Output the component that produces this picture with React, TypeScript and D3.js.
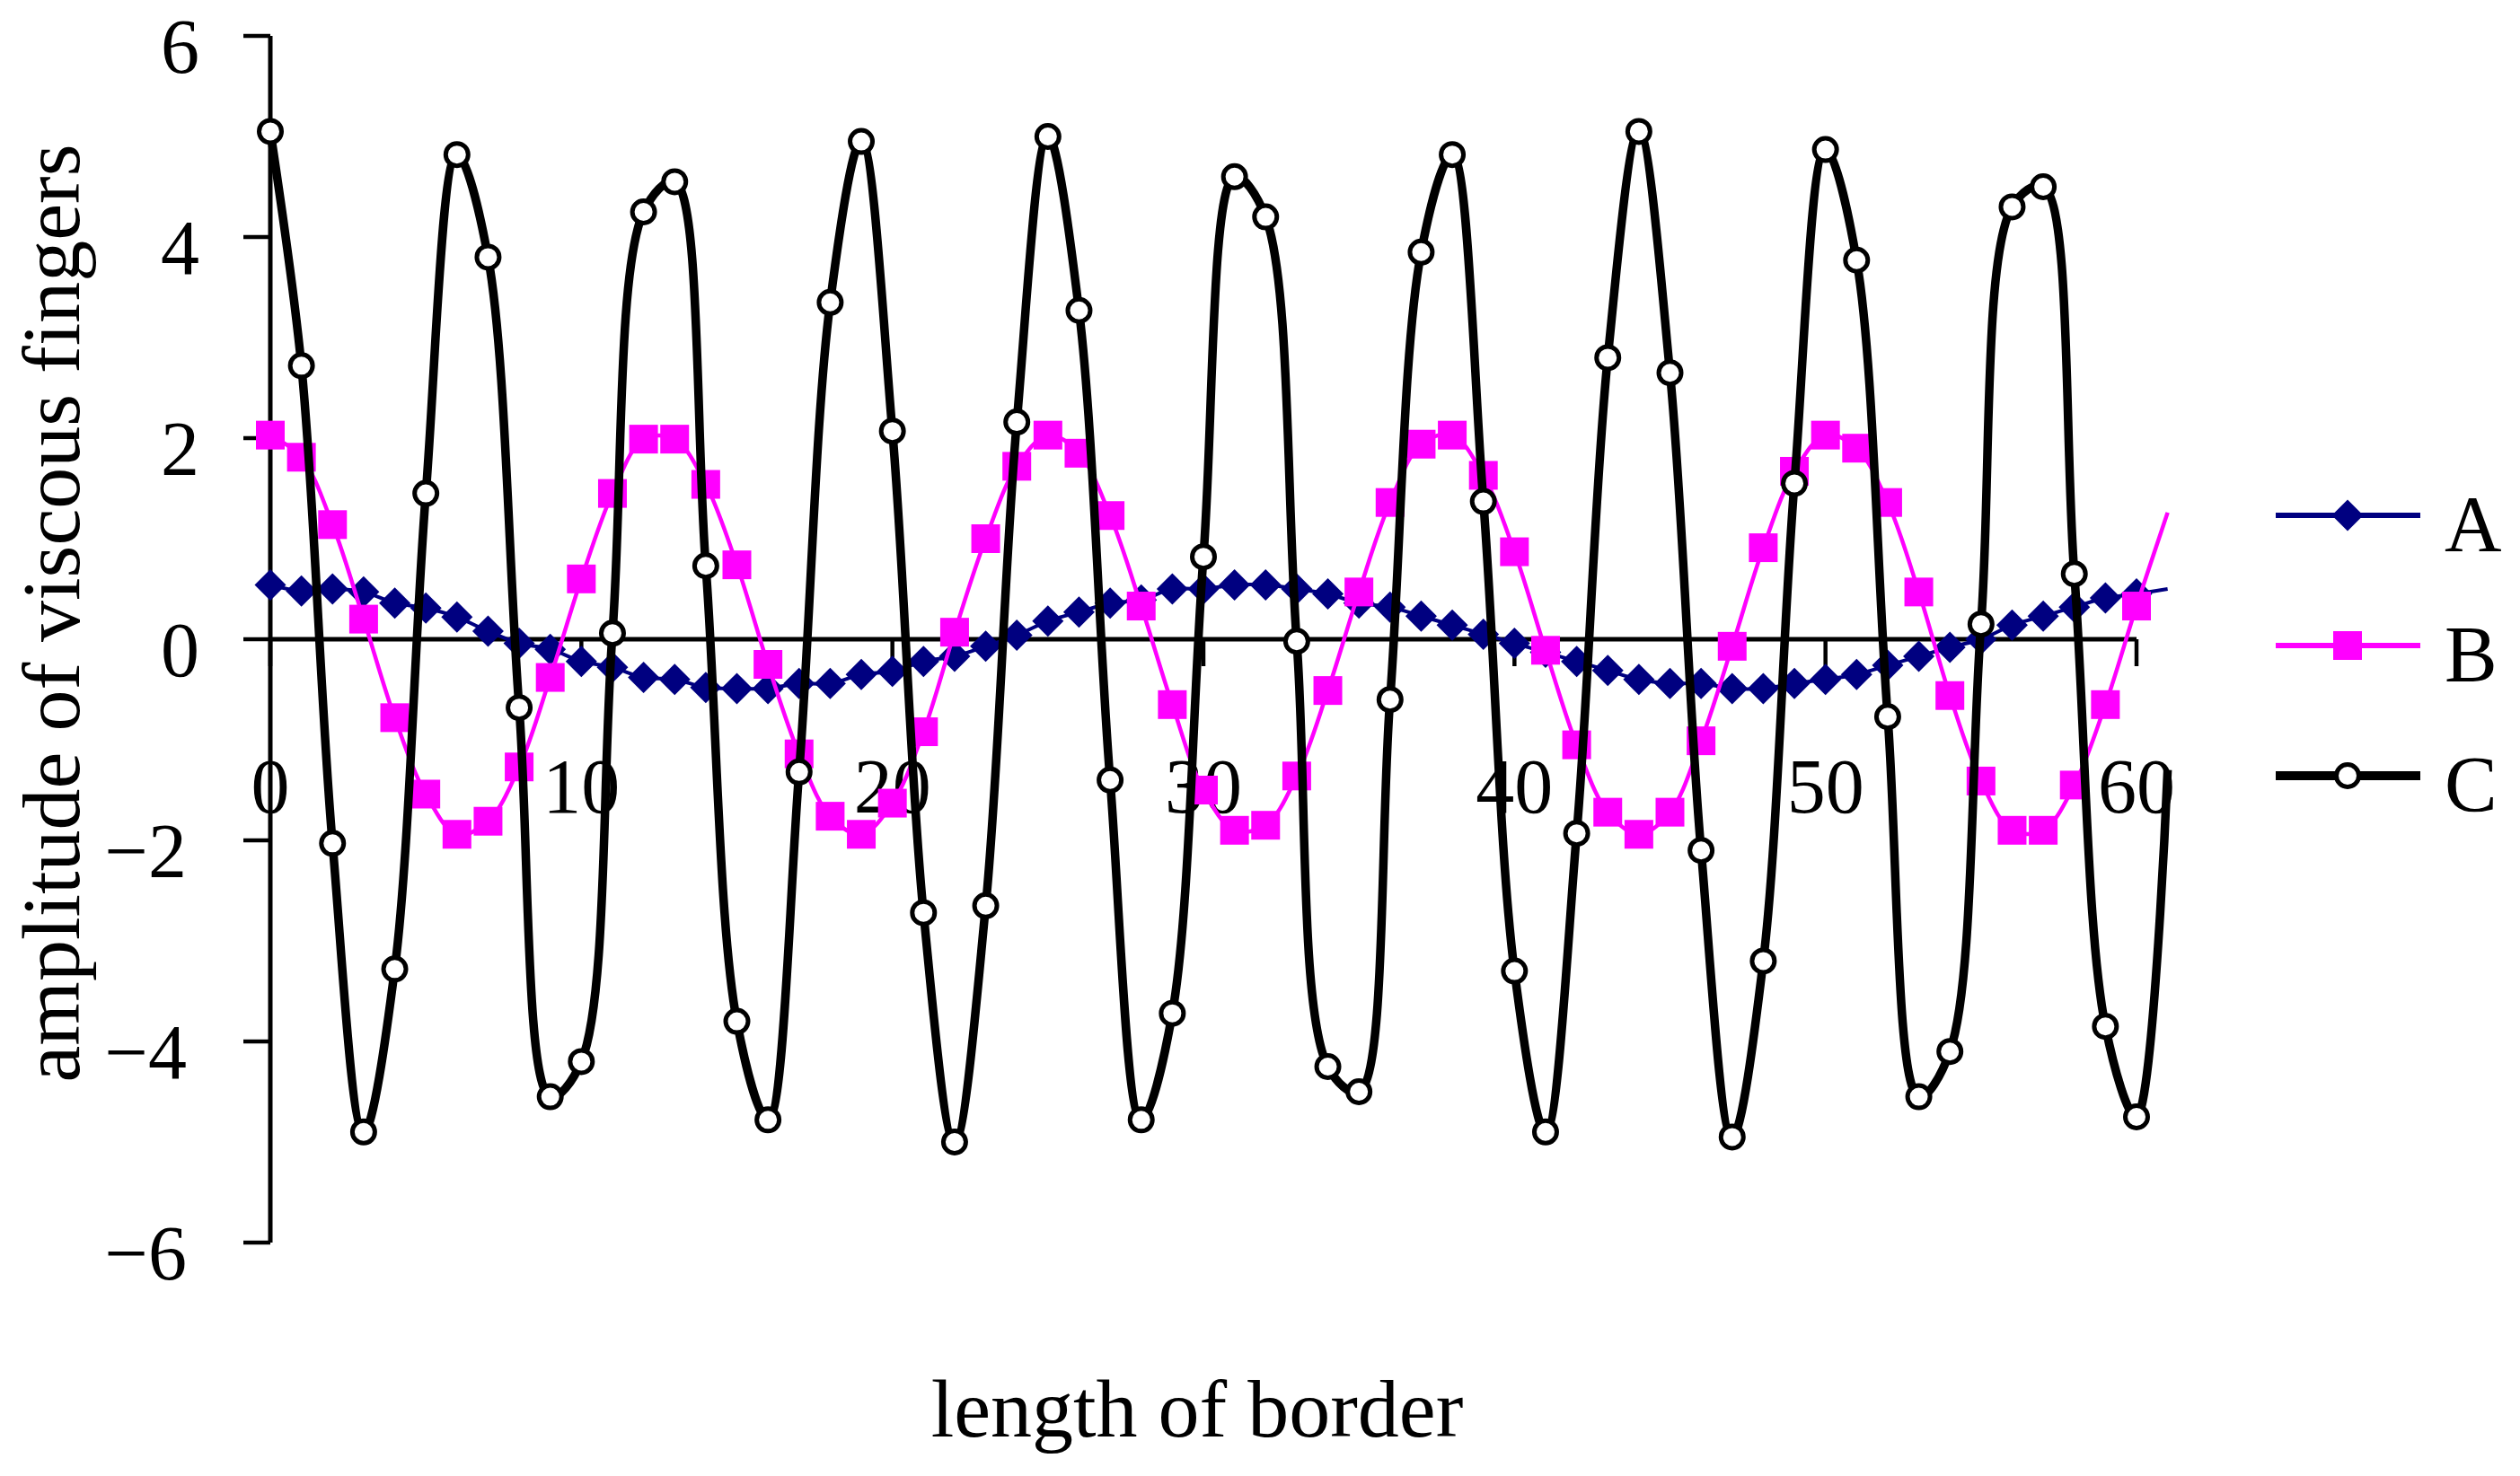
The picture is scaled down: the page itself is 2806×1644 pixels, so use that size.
import * as d3 from "d3";

// values, one per unit of border length (0..61)
const seriesNames = ["A", "B", "C"];

const valuesA = [
  0.54, 0.48, 0.5, 0.47, 0.36, 0.31, 0.22, 0.08, -0.04, -0.1,
  -0.22, -0.28, -0.38, -0.4, -0.48, -0.49, -0.49, -0.44, -0.44, -0.35,
  -0.32, -0.22, -0.17, -0.07, 0.04, 0.18, 0.27, 0.36, 0.39, 0.5,
  0.5, 0.54, 0.54, 0.5, 0.45, 0.36, 0.32, 0.23, 0.14, 0.05,
  -0.04, -0.13, -0.22, -0.31, -0.4, -0.44, -0.44, -0.49, -0.49, -0.44,
  -0.4, -0.35, -0.26, -0.17, -0.08, 0.0, 0.14, 0.23, 0.32, 0.41,
  0.45, 0.5,
];

const valuesB = [
  2.03, 1.81, 1.14, 0.2, -0.78, -1.54, -1.94, -1.81, -1.27, -0.38,
  0.6, 1.45, 1.99, 1.99, 1.54, 0.74, -0.25, -1.14, -1.76, -1.94,
  -1.63, -0.92, 0.07, 1.0, 1.72, 2.03, 1.85, 1.23, 0.33, -0.65,
  -1.5, -1.9, -1.85, -1.36, -0.51, 0.47, 1.36, 1.94, 2.03, 1.63,
  0.87, -0.11, -1.05, -1.72, -1.94, -1.72, -1.01, -0.07, 0.91, 1.67,
  2.03, 1.9, 1.36, 0.47, -0.56, -1.41, -1.9, -1.9, -1.45, -0.65,
  0.33, 1.26,
];

const valuesC = [
  5.05, 2.72, -2.03, -4.9, -3.28, 1.45, 4.82, 3.8, -0.68, -4.55,
  -4.2, 0.06, 4.25, 4.55, 0.73, -3.8, -4.78, -1.32, 3.35, 4.95,
  2.07, -2.72, -5.0, -2.65, 2.16, 5.0, 3.27, -1.4, -4.78, -3.72,
  0.82, 4.6, 4.2, -0.02, -4.25, -4.5, -0.6, 3.85, 4.82, 1.37,
  -3.3, -4.9, -1.93, 2.8, 5.05, 2.65, -2.1, -4.95, -3.2, 1.55,
  4.87, 3.77, -0.77, -4.55, -4.1, 0.15, 4.3, 4.5, 0.65, -3.85,
  -4.75, -1.3,
];

const xTicks = [0, 10, 20, 30, 40, 50, 60];
const yTicks = [-6, -4, -2, 0, 2, 4, 6];

const width = 2806;
const height = 1644;
const font = "'Liberation Serif', 'Times New Roman', serif";

const x = d3.scaleLinear().domain([0, 60]).range([301, 2379]);
const y = d3.scaleLinear().domain([-6, 6]).range([1384, 40]);

const series = [
  { name: seriesNames[0], values: valuesA, color: "#000080", width: 4, legendWidth: 6, marker: "diamond" },
  { name: seriesNames[1], values: valuesB, color: "#ff00ff", width: 4.5, legendWidth: 6, marker: "square" },
  { name: seriesNames[2], values: valuesC, color: "#000000", width: 9.5, legendWidth: 10, marker: "circle" },
];

const line = d3
  .line<number>()
  .x((_, i) => x(i))
  .y((d) => y(d))
  .curve(d3.curveCatmullRom.alpha(0.5));

function Marker({ type, cx, cy, color }: { type: string; cx: number; cy: number; color: string }) {
  if (type === "diamond") {
    return <path d={`M${cx},${cy - 17.5}L${cx + 17.5},${cy}L${cx},${cy + 17.5}L${cx - 17.5},${cy}Z`} fill={color} />;
  }
  if (type === "square") {
    return <rect x={cx - 16} y={cy - 16} width={32} height={32} fill={color} />;
  }
  return <circle cx={cx} cy={cy} r={12.5} fill="#fff" stroke={color} strokeWidth={5} />;
}

export default function App() {
  const axisX = x(0);
  const zeroY = y(0);

  return (
    <svg
      width={width}
      height={height}
      style={{ position: "absolute", left: 0, top: 0, background: "#fff" }}
    >
      {/* y axis */}
      <line x1={axisX} x2={axisX} y1={y(6)} y2={y(-6)} stroke="#000" strokeWidth={5} />
      {yTicks.map((t) => (
        <g key={`y${t}`}>
          <line x1={axisX - 30} x2={axisX} y1={y(t)} y2={y(t)} stroke="#000" strokeWidth={4.5} />
          <text
            x={t < 0 ? 208 : 222}
            y={y(t) + 41}
            textAnchor="end"
            fontFamily={font}
            fontSize={86}
            fill="#000"
          >
            {t < 0 ? `\u2212${-t}` : t}
          </text>
        </g>
      ))}

      {/* x axis along zero */}
      <line x1={axisX} x2={x(60)} y1={zeroY} y2={zeroY} stroke="#000" strokeWidth={5} />
      {xTicks.map((t) => (
        <g key={`x${t}`}>
          <line x1={x(t)} x2={x(t)} y1={zeroY} y2={zeroY + 30} stroke="#000" strokeWidth={4.5} />
          <text x={x(t)} y={zeroY + 193} textAnchor="middle" fontFamily={font} fontSize={86} fill="#000">
            {t}
          </text>
        </g>
      ))}

      {/* series */}
      {series.map((s) => (
        <g key={s.name}>
          <path d={line(s.values) ?? ""} fill="none" stroke={s.color} strokeWidth={s.width} strokeLinejoin="round" />
          {s.values.map((v, i) =>
            i <= 60 ? <Marker key={i} type={s.marker} cx={x(i)} cy={y(v)} color={s.color} /> : null
          )}
        </g>
      ))}

      {/* legend */}
      {series.map((s, i) => {
        const ly = 574 + i * 145;
        return (
          <g key={`leg${s.name}`}>
            <line x1={2534} x2={2695} y1={ly} y2={ly} stroke={s.color} strokeWidth={s.legendWidth} />
            <Marker type={s.marker} cx={2614} cy={ly} color={s.color} />
            <text x={2722} y={ly + 39} fontFamily={font} fontSize={88} fill="#000">
              {s.name}
            </text>
          </g>
        );
      })}

      {/* axis titles */}
      <text x={1333} y={1600} textAnchor="middle" fontFamily={font} fontSize={92} fill="#000">
        length of border
      </text>
      <text
        transform="translate(88, 683) rotate(-90)"
        textAnchor="middle"
        fontFamily={font}
        fontSize={92}
        fill="#000"
      >
        amplitude of viscous fingers
      </text>
    </svg>
  );
}
